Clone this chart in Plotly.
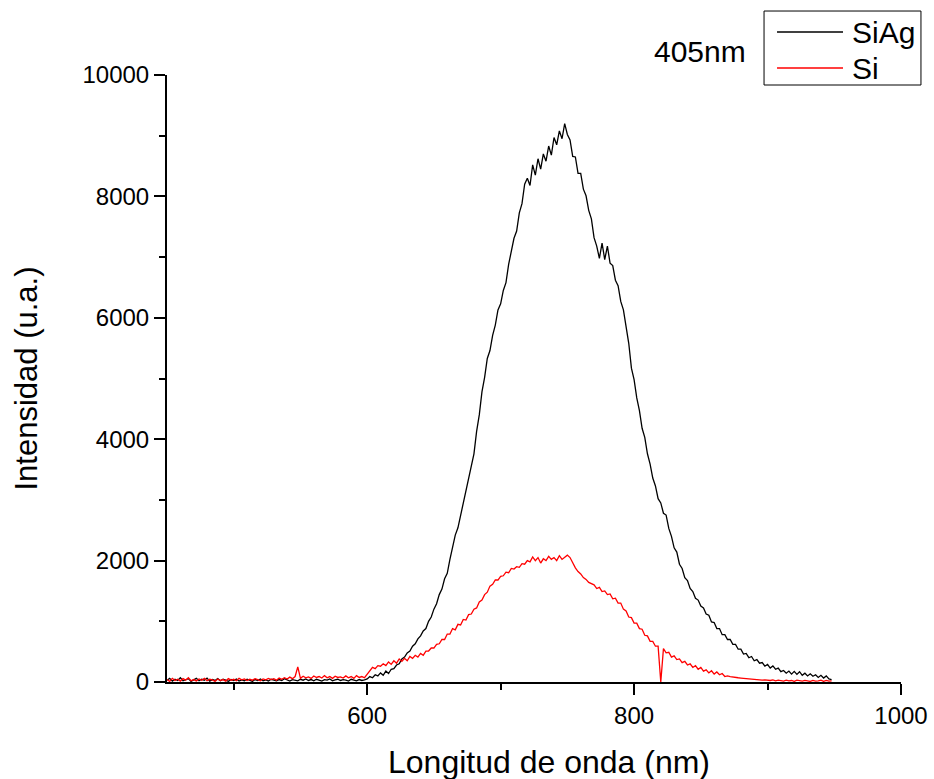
import numpy as np
import plotly.graph_objects as go

# Wavelength grid (nm), 2 nm sampling, 450..948
wavelength = list(range(450, 950, 2))

# SiAg intensity (u.a.)
siag = [
    30, 60, 15, 45, 25, 70, 20, 40, 55, 10,
    35, 60, 20, 45, 30, 65, 15, 40, 25, 55,
    20, 45, 30, 10, 40, 25, 50, 15, 35, 20,
    45, 30, 10, 40, 25, 50, 20, 35, 15, 45,
    30, 20, 40, 25, 55, 30, 15, 40, 35, 20,
    45, 30, 50, 25, 40, 20, 45, 35, 15, 40,
    30, 50, 20, 35, 45, 25, 40, 30, 15, 45,
    30, 20, 40, 25, 35, 50, 90, 70, 120, 100,
    150, 110, 180, 140, 210, 220, 280, 300, 380, 410,
    480, 510, 590, 630, 710, 760, 840, 880, 1000, 1070,
    1200, 1290, 1440, 1530, 1700, 1790, 2020, 2200, 2420, 2540,
    2750, 2900, 3150, 3340, 3580, 3760, 4130, 4400, 4780, 5020,
    5330, 5460, 5710, 5880, 6130, 6230, 6450, 6580, 6880, 7080,
    7310, 7430, 7730, 7880, 8200, 8300, 8180, 8520, 8350, 8620,
    8450, 8700, 8580, 8830, 8680, 8970, 8850, 9080, 8950, 9200,
    9020, 8930, 8660, 8650, 8380, 8380, 8120, 8010, 7770, 7630,
    7320, 7180, 6980, 7230, 6960, 7180, 6900, 6860, 6620, 6530,
    6270, 6130, 5820, 5580, 5170, 4980, 4680, 4470, 4180, 4030,
    3760, 3590, 3360, 3230, 3020, 2950, 2780, 2750, 2530, 2400,
    2210, 2140, 1940, 1870, 1720, 1670, 1540, 1490, 1380, 1350,
    1250, 1220, 1120, 1100, 990, 980, 880, 880, 780, 780,
    700, 700, 620, 620, 540, 540, 460, 470, 400, 420,
    350, 370, 310, 320, 260, 290, 230, 265, 210, 230,
    170, 190, 145, 180, 130, 175, 125, 170, 110, 145,
    100, 135, 95, 120, 75, 110, 65, 100, 50, 40,
]

# Si intensity (u.a.)
si = [
    40, 10, 60, 25, 45, 15, 55, 30, 70, 20,
    40, 15, 50, 30, 60, 20, 45, 35, 10, 50,
    25, 40, 15, 55, 30, 45, 20, 60, 35, 50,
    25, 45, 30, 55, 40, 20, 50, 35, 60, 40,
    55, 30, 65, 45, 70, 50, 80, 55, 90, 250,
    60, 95, 70, 85, 60, 100, 75, 90, 65, 105,
    70, 90, 60, 95, 75, 85, 65, 100, 70, 90,
    60, 105, 75, 90, 70, 130, 200, 240, 220, 270,
    260, 300, 270, 330, 290, 350, 310, 380, 340, 390,
    350, 420, 390, 440, 410, 470, 440, 510, 510, 560,
    560, 620, 630, 700, 700, 790, 790, 880, 860, 950,
    940, 1030, 1020, 1110, 1120, 1200, 1220, 1320, 1350, 1440,
    1480, 1580, 1610, 1680, 1680, 1740, 1750, 1810, 1800, 1870,
    1860, 1900, 1890, 1950, 1940, 2000, 1980, 2060, 2000, 2050,
    1960, 2030, 2000, 2070, 2020, 2050, 2000, 2080, 2020, 2060,
    2090, 2050, 1950, 1880, 1820, 1780, 1720, 1690, 1640, 1620,
    1600, 1540, 1560, 1490, 1500, 1440, 1450, 1370, 1380, 1300,
    1300, 1200, 1170, 1070, 1060, 970, 970, 880, 870, 770,
    760, 670, 670, 590, 590, 0, 550, 480, 490, 410,
    430, 370, 380, 320, 340, 280, 300, 240, 270, 210,
    240, 180, 200, 150, 185, 130, 165, 120, 140, 90,
    100, 90, 80, 75, 70, 65, 60, 60, 50, 45,
    40, 40, 35, 30, 35, 30, 25, 35, 20, 30,
    25, 15, 30, 20, 25, 10, 30, 20, 15, 25,
    20, 10, 25, 15, 20, 30, 10, 25, 15, 20,
]

series_names = ["SiAg", "Si"]
series_colors = ["#000000", "#FF0000"]
x_ticks = [600, 800, 1000]
x_ticktext = ["600", "800", "1000"]
y_ticks = [0, 2000, 4000, 6000, 8000, 10000]
y_ticktext = ["0", "2000", "4000", "6000", "8000", "10000"]

FONT = "Arial, 'Liberation Sans', sans-serif"

fig = go.Figure()
for name, vals, col in zip(series_names, [siag, si], series_colors):
    fig.add_trace(go.Scatter(x=wavelength, y=vals, mode="lines", name=name,
                             line=dict(color=col, width=1.3), showlegend=False))

axis_common = dict(
    showline=True, linecolor="black", linewidth=2, mirror=False,
    ticks="outside", ticklen=11, tickwidth=2, tickcolor="black",
    showgrid=False, zeroline=False, automargin=False,
    tickfont=dict(family=FONT, size=24, color="black"),
)

fig.update_xaxes(range=[450, 1000], tickvals=x_ticks, ticktext=x_ticktext,
                 minor=dict(dtick=100, tick0=500, ticks="outside", ticklen=6,
                            tickwidth=2, tickcolor="black"),
                 **axis_common)
fig.update_yaxes(range=[0, 10000], tickvals=y_ticks, ticktext=y_ticktext,
                 minor=dict(dtick=1000, ticks="outside", ticklen=6,
                            tickwidth=2, tickcolor="black"),
                 title=dict(text="Intensidad (u.a.)",
                            font=dict(family=FONT, size=31, color="black"),
                            standoff=36),
                 **axis_common)

# Custom legend box (paper coordinates relative to plot area)
shapes = [
    dict(type="rect", xref="paper", yref="paper", x0=0.8134, x1=1.0272,
         y0=0.9835, y1=1.1054, line=dict(color="black", width=1),
         fillcolor="white", layer="above"),
]
leg_y = [1.0708, 1.0115]
for yy, col in zip(leg_y, series_colors):
    shapes.append(dict(type="line", xref="paper", yref="paper", x0=0.8311,
                       x1=0.9210, y0=yy, y1=yy, line=dict(color=col, width=1.3)))

annotations = []
for yy, name in zip(leg_y, series_names):
    annotations.append(dict(text=name, xref="paper", yref="paper", x=0.9305,
                            y=yy, xanchor="left", yanchor="middle", showarrow=False,
                            font=dict(family=FONT, size=30, color="black")))
annotations.append(dict(text="405nm", xref="paper", yref="paper", x=0.726,
                        y=1.0379, xanchor="center", yanchor="middle",
                        showarrow=False,
                        font=dict(family=FONT, size=30, color="black")))
# x-axis title
annotations.append(dict(text="Longitud de onda (nm)", xref="paper", yref="paper",
                        x=0.5198, y=-0.1318, xanchor="center", yanchor="middle",
                        showarrow=False,
                        font=dict(family=FONT, size=32, color="black")))

fig.update_layout(
    width=934, height=779,
    margin=dict(l=167, r=33, t=75, b=97),
    paper_bgcolor="white", plot_bgcolor="white",
    shapes=shapes, annotations=annotations,
    font=dict(family=FONT, color="black"),
)

fig.write_html("out.html")
